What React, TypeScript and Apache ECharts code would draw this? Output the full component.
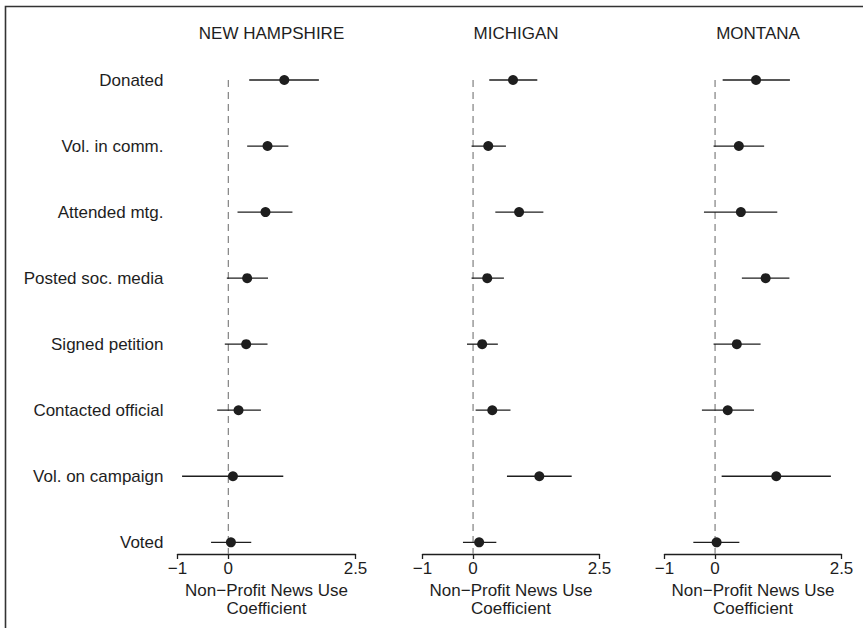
import React, { useEffect, useRef } from "react";
import * as echarts from "echarts";

// Categories from bottom (Voted) to top (Donated)
const categories = [
  "Voted",
  "Vol. on campaign",
  "Contacted official",
  "Signed petition",
  "Posted soc. media",
  "Attended mtg.",
  "Vol. in comm.",
  "Donated",
];

const states = ["NEW HAMPSHIRE", "MICHIGAN", "MONTANA"];

// Values in the same order as categories (Voted ... Donated)
const nhEst = [0.05, 0.09, 0.2, 0.35, 0.37, 0.73, 0.77, 1.1];
const nhLo = [-0.34, -0.91, -0.22, -0.07, -0.03, 0.18, 0.37, 0.41];
const nhHi = [0.45, 1.08, 0.64, 0.77, 0.78, 1.26, 1.18, 1.78];

const miEst = [0.12, 1.31, 0.38, 0.18, 0.28, 0.91, 0.3, 0.79];
const miLo = [-0.2, 0.67, 0.05, -0.12, -0.03, 0.44, -0.03, 0.32];
const miHi = [0.46, 1.95, 0.74, 0.49, 0.61, 1.39, 0.65, 1.27];

const mtEst = [0.03, 1.21, 0.25, 0.43, 1.0, 0.51, 0.47, 0.81];
const mtLo = [-0.43, 0.13, -0.26, -0.03, 0.53, -0.22, -0.03, 0.15];
const mtHi = [0.48, 2.29, 0.77, 0.9, 1.47, 1.23, 0.97, 1.48];

const xTicks = [-1, 0, 2.5];

const FONT = "'Liberation Sans', Arial, Helvetica, sans-serif";
const INK = "#1e1e1e";

export default function App() {
  const ref = useRef<HTMLDivElement>(null);

  useEffect(() => {
    if (!ref.current) return;
    const chart = echarts.init(ref.current, undefined, { renderer: "svg" });

    const panels = [
      { est: nhEst, lo: nhLo, hi: nhHi, left: 177.5, width: 178 },
      { est: miEst, lo: miLo, hi: miHi, left: 422.5, width: 177 },
      { est: mtEst, lo: mtLo, hi: mtHi, left: 664.5, width: 177 },
    ];

    const grids: any[] = [];
    const xAxes: any[] = [];
    const yAxes: any[] = [];
    const series: any[] = [];
    const titles: any[] = [];

    panels.forEach((p, i) => {
      grids.push({ left: p.left, width: p.width, top: 80, height: 462.3 });
      xAxes.push({
        type: "value",
        gridIndex: i,
        min: -1,
        max: 2.5,
        offset: 11.7,
        splitLine: { show: false },
        axisLine: { show: true, lineStyle: { color: INK, width: 1.3 } },
        axisTick: {
          show: true,
          customValues: xTicks,
          length: 5,
          lineStyle: { color: INK, width: 1.3 },
        },
        axisLabel: {
          customValues: xTicks,
          margin: 6,
          color: INK,
          fontSize: 17,
          fontFamily: FONT,
          formatter: (v: number) => (v < 0 ? "\u2212" + Math.abs(v) : String(v)),
        },
        name: "Non\u2212Profit News Use\nCoefficient",
        nameLocation: "middle",
        nameGap: 26,
        nameTextStyle: {
          color: INK,
          fontSize: 17,
          fontFamily: FONT,
          lineHeight: 18,
        },
      });
      yAxes.push({
        type: "category",
        gridIndex: i,
        data: categories,
        boundaryGap: false,
        axisLine: { show: false },
        axisTick: { show: false },
        splitLine: { show: false },
        axisLabel: {
          show: i === 0,
          margin: 14,
          color: INK,
          fontSize: 17,
          fontFamily: FONT,
        },
      });
      titles.push({
        text: states[i],
        left: p.left + p.width / 2,
        textAlign: "center",
        top: 20,
        textStyle: {
          color: INK,
          fontSize: 17,
          fontWeight: "normal",
          fontFamily: FONT,
        },
      });

      // dashed reference line at 0
      series.push({
        type: "custom",
        xAxisIndex: i,
        yAxisIndex: i,
        clip: false,
        silent: true,
        data: [[0, categories.length - 1]],
        renderItem: (_params: any, api: any) => {
          const top = api.coord([0, categories.length - 1]);
          const bot = api.coord([0, 0]);
          return {
            type: "line",
            shape: { x1: top[0], y1: top[1], x2: bot[0], y2: bot[1] + 11.7 },
            style: { stroke: "#8a8a8a", lineWidth: 1.3, lineDash: [7, 5] },
          };
        },
        z: 1,
      });

      // error bars
      series.push({
        type: "custom",
        xAxisIndex: i,
        yAxisIndex: i,
        clip: false,
        data: categories.map((_, k) => [p.lo[k], p.hi[k], k]),
        encode: { x: [0, 1], y: 2 },
        renderItem: (_params: any, api: any) => {
          const a = api.coord([api.value(0), api.value(2)]);
          const b = api.coord([api.value(1), api.value(2)]);
          return {
            type: "line",
            shape: { x1: a[0], y1: a[1], x2: b[0], y2: b[1] },
            style: { stroke: INK, lineWidth: 1.3 },
          };
        },
        z: 2,
      });

      // point estimates
      series.push({
        type: "scatter",
        xAxisIndex: i,
        yAxisIndex: i,
        symbol: "circle",
        symbolSize: 10,
        itemStyle: { color: INK, opacity: 1 },
        data: categories.map((c, k) => [p.est[k], c]),
        z: 3,
      });
    });

    chart.setOption({
      animation: false,
      backgroundColor: "#ffffff",
      title: titles,
      grid: grids,
      xAxis: xAxes,
      yAxis: yAxes,
      series,
      graphic: [
        {
          type: "rect",
          shape: { x: 5.5, y: 6.5, width: 900, height: 700 },
          style: { fill: "none", stroke: "#333333", lineWidth: 1.6 },
          silent: true,
        },
      ],
    });

    return () => chart.dispose();
  }, []);

  return (
    <div
      ref={ref}
      style={{ position: "fixed", left: 0, top: 0, width: 863, height: 628 }}
    />
  );
}
